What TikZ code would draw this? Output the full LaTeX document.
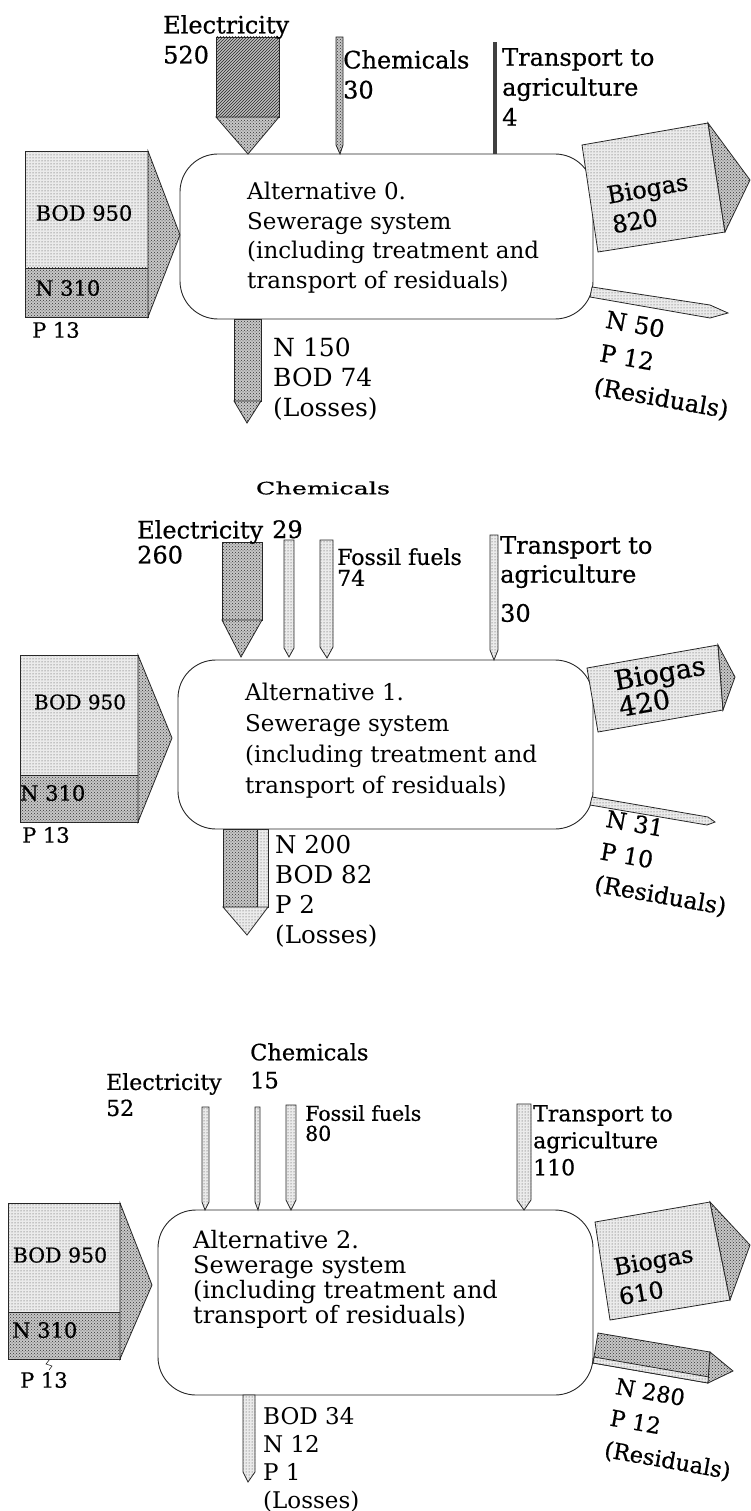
\documentclass[tikz,border=0pt]{standalone}
\usepackage{fontspec}
\setmainfont{DejaVu Serif}
\newfontfamily\heavyfnt[FakeBold=0.6]{DejaVu Serif}
\usetikzlibrary{patterns}

\tikzset{
  sysbox/.style={draw=black!85, line width=0.9pt, rounded corners=38pt, inner sep=0pt},
  boxtxt/.style={font=\fontsize{23}{29.5}\selectfont, inner sep=0pt, align=left, anchor=north west},
  lbl/.style={font=\heavyfnt\fontsize{24}{30}\selectfont, inner sep=0pt, align=left, anchor=north west},
  inlbl/.style={font=\heavyfnt\fontsize{21}{24}\selectfont, inner sep=0pt},
  lite/.style={draw=black!85, line width=0.8pt, fill=black!8, postaction={pattern=dots, pattern color=black!75}},
  dark/.style={draw=black!85, line width=0.8pt, fill=black!22, postaction={pattern=crosshatch dots, pattern color=black!80}},
  hatch/.style={draw=black!85, line width=0.8pt, fill=black!25, postaction={pattern=north east lines, pattern color=black!85}},
}

\begin{document}
\begin{tikzpicture}[x=1pt, y=-1pt]
  \useasboundingbox (0,0) rectangle (751,1511);

  % ---------- Alternative 0 ----------
  \node[sysbox, minimum width=413pt, minimum height=165pt] (sys0) at (386.5,236.5) {};
  \node[boxtxt] (txt0) at (247,182) {Alternative 0.\\Sewerage system\\(including treatment and\\transport of residuals)};
  \filldraw[hatch] (216,37) rectangle (279,117);
  \filldraw[dark] (216,117) -- (248,154) -- (279,117) -- cycle;
  \node[lbl] (el0) at (163,15) {Electricity\\520};
  \filldraw[dark] (336,37) -- (343,37) -- (343,145) -- (340,154) -- (336,145) -- cycle;
  \node[lbl] (ch0) at (343,50) {Chemicals\\30};
  \fill[black!75] (493,42) rectangle (497,154);
  \node[lbl] (tr0) at (502,48) {Transport to\\agriculture\\4};
  \filldraw[lite] (25,151) rectangle (148,268);
  \filldraw[dark] (25,268) rectangle (148,317);
  \filldraw[dark] (148,151) -- (180,235) -- (148,317) -- cycle;
  \node[inlbl] (bod0) at (84,213) {BOD 950};
  \node[inlbl, anchor=west] (n0) at (35,288) {N 310};
  \node[inlbl, anchor=west] (p0) at (32,330) {P 13};
  \filldraw[dark] (234,319) rectangle (261,401);
  \filldraw[dark] (234,401) -- (247,423) -- (261,401) -- cycle;
  \node[lbl, font=\fontsize{25}{30}\selectfont] (ls0) at (273,338) {N 150\\BOD 74\\(Losses)};
  \filldraw[lite] (582,145) -- (708,123) -- (725,232) -- (598,252) -- cycle;
  \filldraw[dark] (708,123) -- (750,180) -- (725,232) -- cycle;
  \node[lbl, anchor=center, rotate=10, font=\heavyfnt\fontsize{24}{30}\selectfont] (bg0) at (650,203) {Biogas\\820};
  \filldraw[lite] (592,287) -- (710,305) -- (728,313) -- (710,318) -- (590,297) -- cycle;
  \node[lbl, anchor=center, rotate=-10, font=\heavyfnt\fontsize{24}{34}\selectfont] (rs0) at (667,366) {N 50\\P 12\\(Residuals)};

  % ---------- Alternative 1 ----------
  \node[sysbox, minimum width=415pt, minimum height=169pt] (sys1) at (385.5,744.5) {};
  \node[boxtxt, font=\fontsize{23}{31}\selectfont] (txt1) at (245,683) {Alternative 1.\\Sewerage system\\(including treatment and\\transport of residuals)};
  \filldraw[dark] (222,542) rectangle (262,620);
  \filldraw[dark] (222,620) -- (241,657) -- (262,620) -- cycle;
  \node[lbl, font=\heavyfnt\fontsize{24}{25}\selectfont] (el1) at (137,520) {Electricity\\260};
  \filldraw[lite] (284,540) -- (294,540) -- (294,648) -- (289,657) -- (284,648) -- cycle;
  \node[lbl, anchor=center, font=\heavyfnt\fontsize{17}{18}\selectfont, xscale=1.5] (ch1) at (323,488) {Chemicals};
  \node[lbl, font=\heavyfnt\fontsize{24}{25}\selectfont] (ch1v) at (272,520) {29};
  \filldraw[lite] (320,540) -- (333,540) -- (333,647) -- (327,658) -- (320,647) -- cycle;
  \node[lbl, font=\heavyfnt\fontsize{22}{21}\selectfont] (fo1) at (337,548) {Fossil fuels\\74};
  \filldraw[lite] (490,535) -- (498,535) -- (498,650) -- (494,660) -- (490,650) -- cycle;
  \node[lbl, font=\heavyfnt\fontsize{24}{29}\selectfont] (tr1) at (500,536) {Transport to\\agriculture\\[10pt]30};
  \filldraw[lite] (20,655) rectangle (138,775);
  \filldraw[dark] (20,775) rectangle (138,822);
  \filldraw[dark] (138,655) -- (172,738) -- (138,822) -- cycle;
  \node[inlbl, font=\heavyfnt\fontsize{20}{24}\selectfont] (bod1) at (80,702) {BOD 950};
  \node[inlbl, anchor=west] (n1) at (20,793) {N 310};
  \node[inlbl, anchor=west] (p1) at (22,835) {P 13};
  \filldraw[dark] (223,829) rectangle (257,907);
  \filldraw[lite] (257,829) rectangle (268,907);
  \filldraw[lite] (223,907) -- (247,935) -- (268,907) -- cycle;
  \node[lbl, font=\fontsize{24.5}{30}\selectfont] (ls1) at (275,835) {N 200\\BOD 82\\P 2\\(Losses)};
  \filldraw[lite] (587,668) -- (718,645) -- (723,710) -- (598,732) -- cycle;
  \filldraw[dark] (718,645) -- (735,677) -- (723,710) -- cycle;
  \node[lbl, anchor=center, rotate=10, font=\heavyfnt\fontsize{27}{27}\selectfont] (bg1) at (662,686) {Biogas\\420};
  \filldraw[lite] (592,797) -- (708,817) -- (715,822) -- (707,825) -- (590,805) -- cycle;
  \node[lbl, anchor=center, rotate=-10, font=\heavyfnt\fontsize{23.5}{33}\selectfont] (rs1) at (666,864) {N 31\\P 10\\(Residuals)};

  % ---------- Alternative 2 ----------
  \node[sysbox, minimum width=435pt, minimum height=185pt] (sys2) at (375.5,1302.5) {};
  \node[boxtxt, font=\fontsize{24}{25}\selectfont] (txt2) at (193,1230) {Alternative 2.\\Sewerage system\\(including treatment and\\transport of residuals)};
  \filldraw[lite] (202,1107) -- (209,1107) -- (209,1202) -- (205,1210) -- (202,1202) -- cycle;
  \node[lbl, font=\heavyfnt\fontsize{22}{26}\selectfont] (el2) at (106,1073) {Electricity\\52};
  \filldraw[lite] (255,1107) -- (260,1107) -- (260,1202) -- (258,1210) -- (255,1202) -- cycle;
  \node[lbl, font=\heavyfnt\fontsize{22.5}{28}\selectfont] (ch2) at (250,1043) {Chemicals\\15};
  \filldraw[lite] (286,1105) -- (296,1105) -- (296,1200) -- (291,1210) -- (286,1200) -- cycle;
  \node[lbl, font=\heavyfnt\fontsize{20.5}{20}\selectfont] (fo2) at (305,1105) {Fossil fuels\\80};
  \filldraw[lite] (517,1104) -- (531,1104) -- (531,1200) -- (524,1210) -- (517,1200) -- cycle;
  \node[lbl, font=\heavyfnt\fontsize{22}{27}\selectfont] (tr2) at (533,1105) {Transport to\\agriculture\\110};
  \filldraw[lite] (8,1203) rectangle (120,1312);
  \filldraw[dark] (8,1312) rectangle (120,1359);
  \filldraw[dark] (120,1203) -- (152,1285) -- (120,1359) -- cycle;
  \node[inlbl, font=\heavyfnt\fontsize{20.5}{24}\selectfont] (bod2) at (60,1255) {BOD 950};
  \node[inlbl, anchor=west] (n2) at (12,1330) {N 310};
  \node[inlbl, anchor=west] (p2) at (20,1380) {P 13};
  \coordinate (p2tick) at (50,1359);
  \draw[black!85, line width=0.6pt] (p2tick) -- ++(-4,5) -- ++(6,2) -- ++(-3,4);
  \filldraw[lite] (243,1395) -- (255,1395) -- (255,1472) -- (248,1482) -- (243,1472) -- cycle;
  \node[lbl, font=\fontsize{23}{28}\selectfont] (ls2) at (263,1407) {BOD 34\\N 12\\P 1\\(Losses)};
  \filldraw[lite] (595,1222) -- (710,1202) -- (730,1300) -- (610,1320) -- cycle;
  \filldraw[dark] (710,1202) -- (750,1245) -- (730,1300) -- cycle;
  \node[lbl, anchor=center, rotate=10, font=\heavyfnt\fontsize{23.5}{30}\selectfont] (bg2) at (656,1275) {Biogas\\610};
  \filldraw[dark] (598,1333) -- (710,1352) -- (708,1383) -- (593,1363) -- cycle;
  \filldraw[lite] (594,1357) -- (709,1377) -- (708,1383) -- (593,1363) -- cycle;
  \filldraw[dark] (710,1352) -- (733,1371) -- (708,1383) -- cycle;
  \node[lbl, anchor=center, rotate=-10, font=\heavyfnt\fontsize{22.5}{32}\selectfont] (rs2) at (673,1430) {N 280\\P 12\\(Residuals)};
\end{tikzpicture}
\end{document}
